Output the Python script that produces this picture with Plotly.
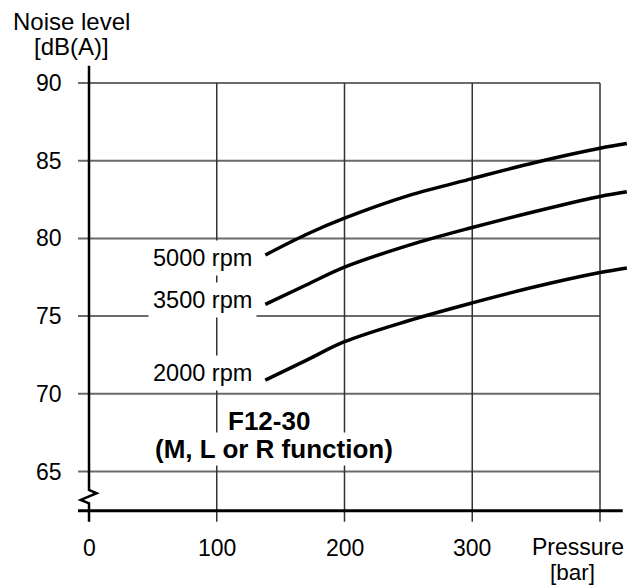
import plotly.graph_objects as go

# ---- data ----
pressure = [138, 170, 200, 250, 300, 350, 400, 421]
noise_5000 = [78.93, 80.25, 81.3, 82.75, 83.85, 84.9, 85.8, 86.1]
noise_3500 = [75.75, 77.0, 78.15, 79.55, 80.7, 81.75, 82.7, 83.0]
noise_2000 = [70.88, 72.15, 73.35, 74.7, 75.85, 76.9, 77.8, 78.1]
series_names = ["5000 rpm", "3500 rpm", "2000 rpm"]
x_ticks = [0, 100, 200, 300]
y_ticks = [65, 70, 75, 80, 85, 90]
grid_x = [100, 200, 300, 400]

FONT = "Liberation Sans, Arial, Helvetica, sans-serif"
fig = go.Figure()

for name, ys in zip(series_names, [noise_5000, noise_3500, noise_2000]):
    fig.add_trace(go.Scatter(x=pressure, y=ys, mode="lines", name=name,
                             line=dict(color="black", width=3.5, shape="spline", smoothing=1.0),
                             showlegend=False, hoverinfo="x+y"))

shapes = []
# horizontal gridlines
for v in y_ticks:
    shapes.append(dict(type="line", xref="x", yref="y", x0=-8.6, x1=400, y0=v, y1=v,
                       line=dict(color="#6a6a6a", width=2), layer="below"))
# vertical gridlines (with tick extension below axis)
for v in grid_x:
    shapes.append(dict(type="line", xref="x", yref="y", x0=v, x1=v, y0=61.77, y1=90,
                       line=dict(color="#333333", width=1.5), layer="below"))
# x axis
shapes.append(dict(type="line", xref="x", yref="y", x0=-8.6, x1=417.8, y0=62.48, y1=62.48,
                   line=dict(color="black", width=3), layer="below"))
# y axis with break
shapes.append(dict(type="path", xref="x", yref="y",
                   path="M 0,91.11 L 0,63.81 L 6.0,63.60 L -6.5,63.17 L 0,62.95 L 0,61.77",
                   line=dict(color="black", width=2.5), layer="below"))

annotations = []
for v in y_ticks:
    annotations.append(dict(x=-19.6, y=v, xref="x", yref="y", text=str(v), showarrow=False,
                            xanchor="right", yanchor="middle", font=dict(size=23, color="black", family=FONT)))
for v in x_ticks:
    annotations.append(dict(x=v, y=60.08, xref="x", yref="y", text=str(v), showarrow=False,
                            xanchor="center", yanchor="middle", font=dict(size=23, color="black", family=FONT)))
annotations += [
    dict(x=-13.7, y=93.93, xref="x", yref="y", text="Noise level", showarrow=False,
         font=dict(size=24, color="black", family=FONT)),
    dict(x=-13.7, y=92.38, xref="x", yref="y", text="[dB(A)]", showarrow=False,
         font=dict(size=24, color="black", family=FONT)),
    dict(x=382.8, y=60.17, xref="x", yref="y", text="Pressure", showarrow=False,
         font=dict(size=23, color="black", family=FONT)),
    dict(x=378.5, y=58.47, xref="x", yref="y", text="[bar]", showarrow=False,
         font=dict(size=22.5, color="black", family=FONT)),
]
for name, yv in zip(series_names, [78.74, 76.06, 71.34]):
    annotations.append(dict(x=131.5, y=yv, xref="x", yref="y", text=name, showarrow=False,
                            xanchor="right", yanchor="middle", bgcolor="white", borderpad=4,
                            font=dict(size=23.5, color="black", family=FONT)))
annotations.append(dict(x=140.9, y=68.26, xref="x", yref="y", text="<b>F12-30</b>", showarrow=False,
                        xanchor="center", yanchor="middle", bgcolor="white", borderpad=3,
                        font=dict(size=26, color="black", family=FONT)))
annotations.append(dict(x=145.0, y=66.42, xref="x", yref="y", text="<b>(M, L or R function)</b>",
                        showarrow=False, xanchor="center", yanchor="middle", bgcolor="white", borderpad=1,
                        font=dict(size=26, color="black", family=FONT)))

fig.update_layout(
    width=643, height=586, margin=dict(l=0, r=0, t=0, b=0),
    paper_bgcolor="white", plot_bgcolor="white",
    xaxis=dict(range=[-63.41, 439.92], visible=False, fixedrange=True),
    yaxis=dict(range=[57.117, 94.826], visible=False, fixedrange=True),
    shapes=shapes, annotations=annotations, showlegend=False,
)
fig.write_html("out.html")
